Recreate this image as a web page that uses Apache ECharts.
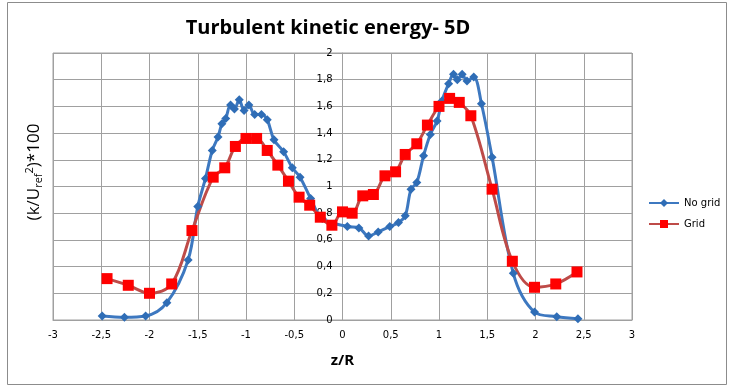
<!DOCTYPE html>
<html>
<head>
<meta charset="utf-8">
<script src="https://cdn.jsdelivr.net/npm/echarts@6/dist/echarts.min.js"></script>
<style>
html,body{margin:0;padding:0;background:#fff;}
#c{width:729px;height:387px;}
</style>
</head>
<body>
<div id="c"></div>
<script>
// ---- data ----
const titleText = 'Turbulent kinetic energy- 5D';
const xAxisTitle = 'z/R';
const seriesNames = ['No grid', 'Grid'];

const noGridX = [-2.49,-2.26,-2.04,-1.82,-1.60,-1.50,-1.42,-1.35,-1.29,-1.25,-1.21,-1.16,-1.12,-1.07,-1.02,-0.97,-0.91,-0.84,-0.78,-0.71,-0.61,-0.52,-0.44,-0.33,-0.21,0.05,0.17,0.27,0.37,0.49,0.58,0.65,0.71,0.77,0.84,0.91,0.98,1.03,1.10,1.15,1.19,1.24,1.29,1.36,1.44,1.55,1.77,1.99,2.22,2.44];
const noGridY = [0.03,0.02,0.03,0.13,0.45,0.85,1.06,1.27,1.37,1.47,1.51,1.61,1.58,1.65,1.57,1.61,1.54,1.54,1.50,1.35,1.26,1.14,1.07,0.91,0.76,0.70,0.69,0.63,0.66,0.70,0.73,0.78,0.98,1.03,1.23,1.39,1.49,1.64,1.77,1.84,1.80,1.84,1.79,1.82,1.62,1.22,0.35,0.06,0.025,0.01];

const gridX = [-2.44,-2.22,-2.00,-1.77,-1.56,-1.34,-1.22,-1.11,-1.00,-0.89,-0.78,-0.67,-0.56,-0.45,-0.34,-0.23,-0.11,0.00,0.10,0.21,0.32,0.44,0.55,0.65,0.77,0.88,1.00,1.11,1.21,1.33,1.55,1.76,1.99,2.21,2.43];
const gridY = [0.31,0.26,0.20,0.27,0.67,1.07,1.14,1.30,1.36,1.36,1.27,1.16,1.04,0.92,0.86,0.77,0.71,0.81,0.80,0.93,0.94,1.08,1.11,1.24,1.32,1.46,1.60,1.66,1.63,1.53,0.98,0.44,0.245,0.27,0.36];

const xMin = -3, xMax = 3, xStep = 0.5;
const yMin = 0, yMax = 2, yStep = 0.2;

// ---- chart ----
const pair = (xs, ys) => xs.map((x, i) => [x, ys[i]]);
const comma = v => String(Math.round(v * 10) / 10).replace('.', ',');
const gridColor = '#a0a0a0';
const gridLeft = 53, gridRight = 97, chartW = 729;
const plotW = chartW - gridLeft - gridRight;
// y axis sits where x = 0
const yAxisOffset = -plotW * (0 - xMin) / (xMax - xMin);

const chart = echarts.init(document.getElementById('c'), null, {renderer: 'canvas'});
chart.setOption({
  animation: false,
  backgroundColor: '#ffffff',
  title: {
    text: titleText,
    left: 323, top: 13, textAlign: 'center',
    textStyle: {fontFamily: 'Open Sans', fontWeight: 'bold', fontSize: 20, color: '#000'}
  },
  grid: {left: gridLeft, right: gridRight, top: 53, bottom: 67, show: true, borderColor: gridColor, borderWidth: 1},
  legend: {
    orient: 'vertical', left: 643, top: 193, itemGap: 11, itemWidth: 30, itemHeight: 10,
    textStyle: {fontFamily: 'DejaVu Sans', fontSize: 10, color: '#000'},
    data: seriesNames
  },
  xAxis: {
    type: 'value', min: xMin, max: xMax, interval: xStep,
    axisLine: {onZero: false, lineStyle: {color: gridColor}},
    axisTick: {show: false},
    splitLine: {lineStyle: {color: gridColor, width: 1}},
    axisLabel: {formatter: comma, fontFamily: 'DejaVu Sans', fontSize: 10, color: '#000', margin: 10},
    name: xAxisTitle, nameLocation: 'middle', nameGap: 33,
    nameTextStyle: {fontFamily: 'Open Sans', fontWeight: 'bold', fontSize: 15, color: '#000'}
  },
  yAxis: {
    type: 'value', min: yMin, max: yMax, interval: yStep, offset: yAxisOffset,
    axisLine: {show: true, onZero: false, lineStyle: {color: gridColor}},
    axisTick: {show: false},
    splitLine: {lineStyle: {color: gridColor, width: 1}},
    axisLabel: {formatter: comma, fontFamily: 'DejaVu Sans', fontSize: 10, color: '#000', margin: 10}
  },
  graphic: [
    {type: 'rect', shape: {x: 7.5, y: 2.5, width: 719, height: 382}, style: {fill: 'none', stroke: '#8c8c8c', lineWidth: 1}, silent: true, z: -1},
    {
      type: 'text', x: 34, y: 172, rotation: Math.PI / 2,
      style: {
        text: '{a|(k/U}{sub|ref}{sup|2}{a|)*100}',
        align: 'center', verticalAlign: 'middle',
        rich: {
          a: {fontFamily: 'Open Sans', fontSize: 17, color: '#000', lineHeight: 20, verticalAlign: 'middle'},
          sub: {fontFamily: 'Open Sans', fontSize: 11, color: '#000', lineHeight: 20, verticalAlign: 'bottom'},
          sup: {fontFamily: 'Open Sans', fontSize: 11, color: '#000', lineHeight: 20, verticalAlign: 'top'}
        }
      }
    }
  ],
  series: [
    {
      name: seriesNames[0], type: 'line', data: pair(noGridX, noGridY),
      smooth: 0.35, symbol: 'diamond', symbolSize: 9,
      lineStyle: {color: '#3d78c0', width: 3},
      itemStyle: {color: '#2f6db6'}
    },
    {
      name: seriesNames[1], type: 'line', data: pair(gridX, gridY),
      smooth: 0.35, symbol: 'rect', symbolSize: 11,
      lineStyle: {color: '#be4b48', width: 3},
      itemStyle: {color: '#ff0000'}
    }
  ]
});
</script>
</body>
</html>
